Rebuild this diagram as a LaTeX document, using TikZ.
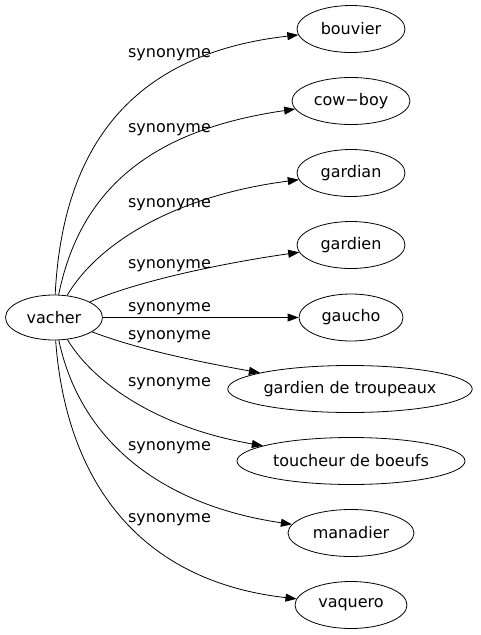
\documentclass[tikz,border=0pt]{standalone}
\usepackage{fontspec}
\setmainfont{DejaVu Sans}
\usetikzlibrary{arrows.meta,shapes.geometric}
\begin{document}
\begin{tikzpicture}[x=1pt,y=-1pt,
  word/.style={draw, ellipse, inner sep=0pt, minimum height=47pt, font=\fontsize{16}{19}\selectfont, line width=0.8pt},
  rel/.style={-{Triangle[length=11pt,width=8pt]}, line width=0.8pt},
  lab/.style={anchor=base, inner sep=0pt, font=\fontsize{16}{19}\selectfont}]
\useasboundingbox (0,0) rectangle (480,635);
\node[word, minimum width=97pt, minimum height=45pt] (vacher) at (54,317.5) {vacher};
\node[word, minimum width=108pt] (bouvier) at (351,29) {bouvier};
\node[word, minimum width=118pt] (cowboy) at (351,101) {cow−boy};
\node[word, minimum width=108pt] (gardian) at (351,173) {gardian};
\node[word, minimum width=108pt] (gardien) at (351,245) {gardien};
\node[word, minimum width=104pt] (gaucho) at (351,317.5) {gaucho};
\node[word, minimum width=244pt] (troupeaux) at (350,389) {gardien de troupeaux};
\node[word, minimum width=228pt] (toucheur) at (351,461) {toucheur de boeufs};
\node[word, minimum width=126pt] (manadier) at (351,533) {manadier};
\node[word, minimum width=112pt] (vaquero) at (351,605) {vaquero};

\node[lab] (l1) at (169.5,57) {synonyme};
\node[lab] (l2) at (169.5,132) {synonyme};
\node[lab] (l3) at (169.5,207) {synonyme};
\node[lab] (l4) at (169.5,268) {synonyme};
\node[lab] (l5) at (169.5,311.5) {synonyme};
\node[lab] (l6) at (169.5,339) {synonyme};
\node[lab] (l7) at (169.5,386) {synonyme};
\node[lab] (l8) at (169.5,450) {synonyme};
\node[lab] (l9) at (169.5,522.5) {synonyme};

\draw[rel] (vacher) .. controls (62,160) and (120,55) .. (bouvier);
\draw[rel] (vacher) .. controls (80,190) and (150,130) .. (cowboy);
\draw[rel] (vacher) .. controls (100,240) and (180,195) .. (gardian);
\draw[rel] (vacher) .. controls (140,280) and (230,262) .. (gardien);
\draw[rel] (vacher) -- (gaucho);
\draw[rel] (vacher) .. controls (140,350) and (200,362) .. (troupeaux);
\draw[rel] (vacher) .. controls (95,385) and (160,428) .. (toucheur);
\draw[rel] (vacher) .. controls (80,440) and (160,505) .. (manadier);
\draw[rel] (vacher) .. controls (65,470) and (130,580) .. (vaquero);
\end{tikzpicture}
\end{document}
